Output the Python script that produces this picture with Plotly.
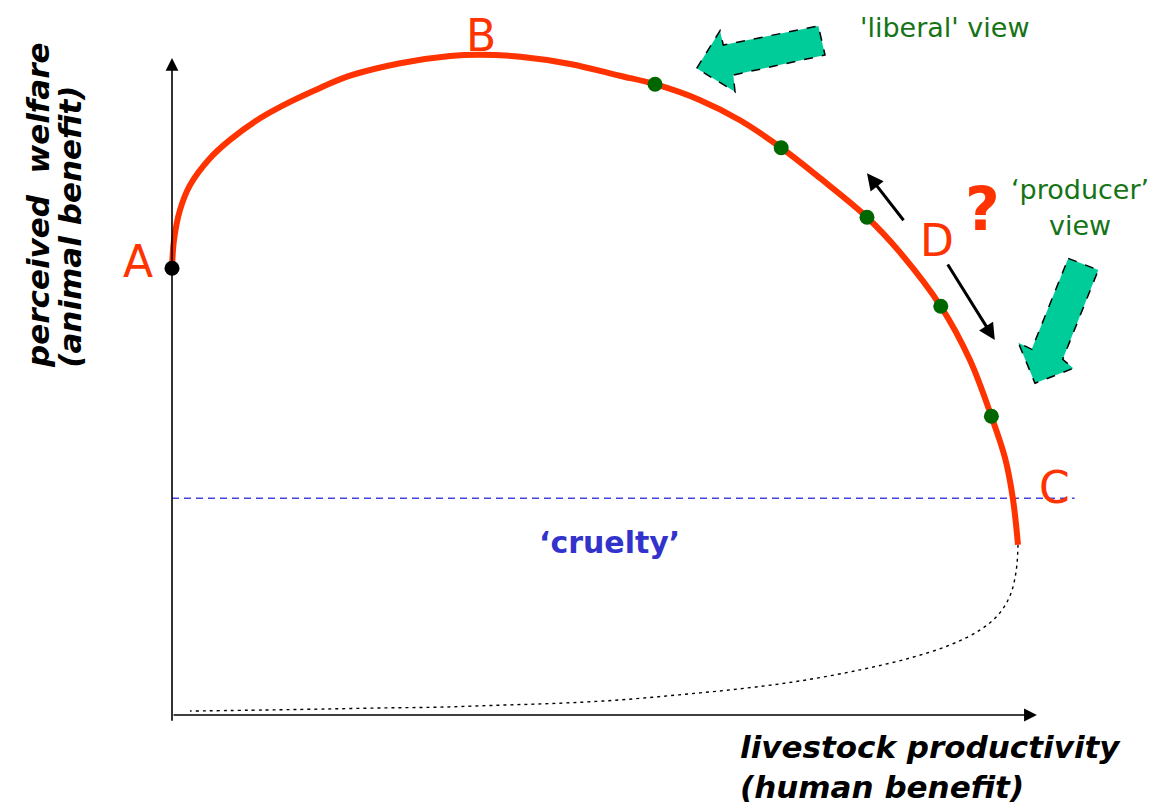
import plotly.graph_objects as go

# --- data (productivity, perceived welfare) ---
curve_x = [0, 0.23, 0.93, 2.1, 4.43, 6.76, 10.26, 13.75, 17.2, 20.75, 26.6, 32.4, 35.9, 40.6, 46.4,
           52.2, 56.3, 61.5, 66.2, 71.0, 75.5, 81.0, 84.8, 89.6, 93.0, 95.5, 97.1, 98.0, 98.6]
curve_y = [68.2, 72.5, 77.1, 80.9, 85.0, 87.8, 91.1, 93.6, 95.7, 97.6, 99.5, 100.6, 100.8, 100.5, 99.4,
           97.6, 96.3, 93.9, 90.8, 86.6, 82.0, 76.0, 70.7, 62.4, 54.2, 45.6, 39.2, 33.1, 26.0]

tail_x = [98.6, 98.4, 97.7, 96.3, 94.2, 90.7, 86.0, 80.2, 73.2, 66.2, 59.2, 52.2, 45.2, 38.2, 31.2,
          24.2, 17.2, 10.8, 2.1]
tail_y = [26.0, 22.1, 18.3, 15.3, 13.0, 10.7, 8.7, 6.9, 5.2, 4.0, 3.1, 2.3, 1.8, 1.5, 1.2,
          1.07, 0.9, 0.76, 0.6]

dots_x = [56.3, 71.0, 81.0, 89.6, 95.5]
dots_y = [96.3, 86.6, 76.0, 62.4, 45.6]

point_a = (0, 68.2)
cruelty_level = 33.1
cruelty_extent = 105.2

# block arrow outlines (decoration)
liberal_arrow_x = [61.15, 63.87, 64.25, 75.33, 76.11, 65.42, 65.62]
liberal_arrow_y = [98.73, 104.47, 102.29, 105.19, 100.76, 97.71, 95.16]
producer_arrow_x = [104.46, 107.96, 103.81, 105.05, 100.58, 98.64, 100.20]
producer_arrow_y = [69.72, 67.94, 54.30, 52.93, 50.64, 56.84, 55.83]

RED = "#ff3300"
GREEN_TXT = "#167316"
FONT = "DejaVu Sans"

fig = go.Figure()

fig.add_trace(go.Scatter(x=tail_x, y=tail_y, mode="lines", line=dict(color="black", width=1.4, dash="3px,4px", shape="spline"),
                         hoverinfo="skip"))
fig.add_trace(go.Scatter(x=[0, cruelty_extent], y=[cruelty_level, cruelty_level], mode="lines",
                         line=dict(color="#4444dd", width=1.5, dash="7px,5px"), hoverinfo="skip"))
fig.add_trace(go.Scatter(x=curve_x, y=curve_y, mode="lines", line=dict(color=RED, width=6, shape="spline"),
                         hoverinfo="skip"))
fig.add_trace(go.Scatter(x=dots_x, y=dots_y, mode="markers", marker=dict(color="#006600", size=15),
                         hoverinfo="skip"))
fig.add_trace(go.Scatter(x=[point_a[0]], y=[point_a[1]], mode="markers", marker=dict(color="black", size=15),
                         hoverinfo="skip"))


def poly(xs, ys):
    return "M " + " L ".join(f"{x},{y}" for x, y in zip(xs, ys)) + " Z"


for xs, ys in [(liberal_arrow_x, liberal_arrow_y), (producer_arrow_x, producer_arrow_y)]:
    fig.add_shape(type="path", path=poly(xs, ys), xref="x", yref="y", fillcolor="#00cc99",
                  line=dict(color="black", width=1.5, dash="dash"), layer="above")

ann = []
# axes arrows
ann.append(dict(x=0, y=100.3, ax=0, ay=-1.1, xref="x", yref="y", axref="x", ayref="y", showarrow=True,
                arrowhead=2, arrowsize=1.6, arrowwidth=1.6, arrowcolor="black", text="", standoff=0))
ann.append(dict(x=100.8, y=0, ax=0, ay=0, xref="x", yref="y", axref="x", ayref="y", showarrow=True,
                arrowhead=2, arrowsize=1.6, arrowwidth=1.6, arrowcolor="black", text="", standoff=0))
# black movement arrows
ann.append(dict(x=81.0, y=82.7, ax=85.4, ay=75.3, xref="x", yref="y", axref="x", ayref="y", showarrow=True,
                arrowhead=2, arrowsize=1.1, arrowwidth=3, arrowcolor="black", text=""))
ann.append(dict(x=95.9, y=57.25, ax=90.3, ay=69.0, xref="x", yref="y", axref="x", ayref="y", showarrow=True,
                arrowhead=2, arrowsize=1.1, arrowwidth=3, arrowcolor="black", text=""))


def label(text, x, y, size, color, **kw):
    d = dict(text=text, x=x, y=y, xref="x", yref="y", showarrow=False,
             font=dict(family=FONT, size=size, color=color))
    d.update(kw)
    ann.append(d)


label("A", -3.96, 69.2, 44, RED)
label("B", 36.0, 103.8, 44, RED)
label("C", 102.9, 34.8, 44, RED)
label("D", 89.2, 72.5, 44, RED)
label("<b>?</b>", 94.5, 77.2, 60, RED)
label("'liberal' view", 90.1, 104.9, 27, GREEN_TXT)
label("\u2018producer\u2019", 105.8, 80.2, 27, GREEN_TXT)
label("view", 105.8, 74.8, 27, GREEN_TXT)
label("<b>\u2018cruelty\u2019</b>", 51.0, 26.3, 30, "#3333cc")

label("<b><i>livestock productivity</i></b><br><b><i>(human benefit)</i></b>", 66.0, -14.05, 31, "black",
      xanchor="left", yanchor="bottom", align="left")
label("<b><i>perceived  welfare</i></b>", -15.6, 52.7, 31, "black", textangle=-90, yanchor="bottom")
label("<b><i>(animal benefit)</i></b>", -11.9, 52.7, 31, "black", textangle=-90, yanchor="bottom")

# plot area covers the whole page: axis origin sits at (172 px, 715 px)
X_RANGE = [-20.047, 115.035]
Y_RANGE = [-14.198, 109.16]

fig.update_layout(
    width=1159, height=808,
    margin=dict(l=0, r=0, t=0, b=0),
    paper_bgcolor="white", plot_bgcolor="white",
    showlegend=False,
    xaxis=dict(range=X_RANGE, visible=False, fixedrange=True),
    yaxis=dict(range=Y_RANGE, visible=False, fixedrange=True),
    annotations=ann,
)

fig.write_html("out.html", config={"displayModeBar": False},
               post_script="document.body.style.margin='0';document.body.style.overflow='hidden';")
